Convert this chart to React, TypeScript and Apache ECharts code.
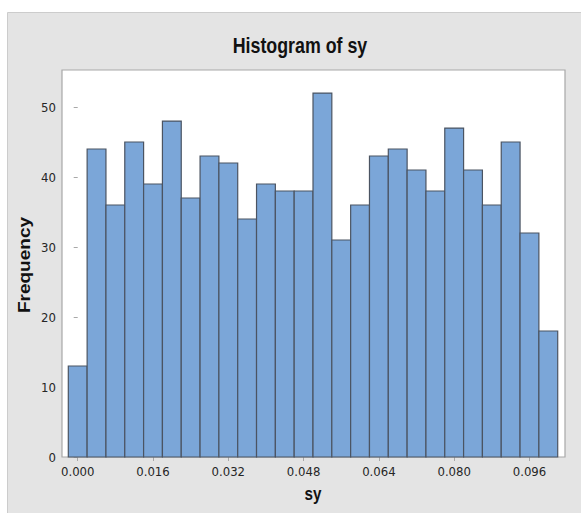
import React, { useEffect, useRef } from "react";
import * as echarts from "echarts";

const binCenters = [
  0.0, 0.004, 0.008, 0.012, 0.016, 0.02, 0.024, 0.028, 0.032, 0.036, 0.04, 0.044, 0.048,
  0.052, 0.056, 0.06, 0.064, 0.068, 0.072, 0.076, 0.08, 0.084, 0.088, 0.092, 0.096, 0.1,
];
const counts = [13, 44, 36, 45, 39, 48, 37, 43, 42, 34, 39, 38, 38, 52, 31, 36, 43, 44, 41, 38, 47, 41, 36, 45, 32, 18];
const binWidth = 0.004;
const xTicks = [0, 0.016, 0.032, 0.048, 0.064, 0.08, 0.096];
const yTicks = [0, 10, 20, 30, 40, 50];

const narrow = "'DejaVu Sans Condensed', 'Liberation Sans', sans-serif";
const lib = "'Liberation Sans', Arial, sans-serif";

export default function App() {
  const ref = useRef<HTMLDivElement>(null);
  useEffect(() => {
    if (!ref.current) return;
    const chart = echarts.init(ref.current, null, { renderer: "svg" });
    chart.setOption({
      animation: false,
      backgroundColor: "#ffffff",
      graphic: [
        {
          type: "rect",
          z: -10,
          silent: true,
          shape: { x: 7.5, y: 12.5, width: 580, height: 510 },
          style: { fill: "#e4e4e4", stroke: "#cccccc", lineWidth: 1 },
        },
        {
          type: "text",
          x: 300,
          y: 45,
          scaleX: 0.81,
          silent: true,
          style: {
            text: "Histogram of sy",
            fontFamily: lib,
            fontSize: 22,
            fontWeight: "bold",
            fill: "#111111",
            textAlign: "center",
            textVerticalAlign: "middle",
          },
        },
        {
          type: "text",
          x: 24,
          y: 265,
          rotation: Math.PI / 2,
          scaleX: 1.12,
          silent: true,
          style: {
            text: "Frequency",
            fontFamily: lib,
            fontSize: 17,
            fontWeight: "bold",
            fill: "#111111",
            textAlign: "center",
            textVerticalAlign: "middle",
          },
        },
        {
          type: "text",
          x: 313,
          y: 493,
          scaleX: 0.8,
          silent: true,
          style: {
            text: "sy",
            fontFamily: lib,
            fontSize: 19,
            fontWeight: "bold",
            fill: "#111111",
            textAlign: "center",
            textVerticalAlign: "middle",
          },
        },
      ],
      grid: {
        left: 62,
        top: 70,
        width: 503,
        height: 387,
        show: true,
        backgroundColor: "#ffffff",
        borderColor: "#a8a8a8",
        borderWidth: 1.2,
      },
      xAxis: {
        type: "value",
        min: -0.00334,
        max: 0.10355,
        axisLine: { show: false },
        splitLine: { show: false },
        axisTick: {
          show: true,
          length: 4,
          lineStyle: { color: "#a8a8a8" },
          customValues: xTicks,
        },
        axisLabel: {
          fontFamily: narrow,
          fontSize: 13,
          color: "#262626",
          margin: 8,
          customValues: xTicks,
          formatter: (v: number) => v.toFixed(3),
        },
      },
      yAxis: {
        type: "value",
        min: 0,
        max: 55.29,
        axisLine: { show: false },
        splitLine: { show: false },
        axisTick: {
          show: true,
          length: 4,
          lineStyle: { color: "#a8a8a8" },
          customValues: yTicks,
        },
        axisLabel: {
          fontFamily: narrow,
          fontSize: 13,
          color: "#262626",
          margin: 6,
          customValues: yTicks,
        },
      },
      series: [
        {
          type: "custom",
          data: binCenters.map((c, i) => [c, counts[i]]),
          encode: { x: 0, y: 1 },
          renderItem: (params: any, api: any) => {
            const c = api.value(0);
            const n = api.value(1);
            const p0 = api.coord([c - binWidth / 2, n]);
            const p1 = api.coord([c + binWidth / 2, 0]);
            return {
              type: "rect",
              shape: { x: p0[0], y: p0[1], width: p1[0] - p0[0], height: p1[1] - p0[1] },
              style: { fill: "#7ba6d8", stroke: "#4b5462", lineWidth: 1.2 },
            };
          },
        },
      ],
    });
    return () => chart.dispose();
  }, []);
  return (
    <div
      ref={ref}
      style={{ position: "fixed", left: 0, top: 0, width: 581, height: 513 }}
    />
  );
}
